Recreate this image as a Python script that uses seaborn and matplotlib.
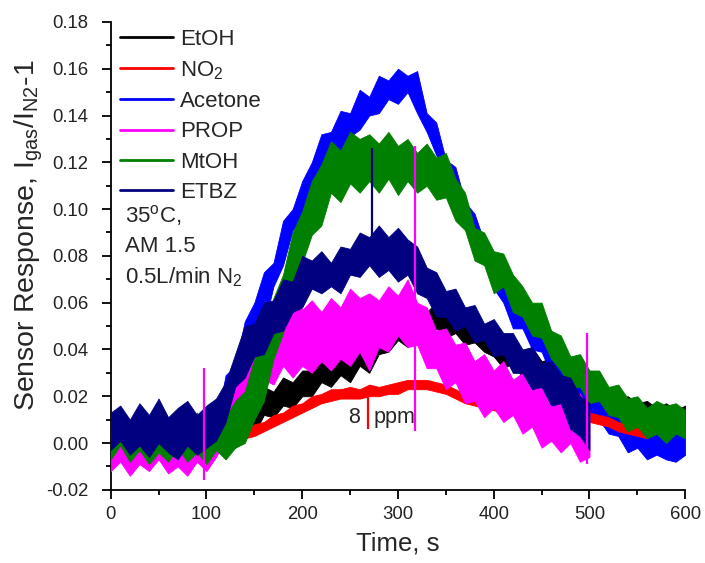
import numpy as np
import pandas as pd
import matplotlib
matplotlib.use("Agg")
import matplotlib.pyplot as plt
from matplotlib.lines import Line2D
import seaborn as sns

# ---------------- data (noise band low / high edges) ----------------
t_full = list(range(0, 601, 10))      # 0..600 s
t_500 = list(range(0, 501, 10))       # 0..500 s
t_560 = list(range(0, 561, 10))       # 0..560 s

etoh_lo = [-0.006, -0.003, -0.007, -0.002, -0.006, -0.004, -0.008, -0.002, -0.005, -0.006, -0.003, -0.005,
           0.000, -0.002, 0.004, 0.004, 0.012, 0.011, 0.016, 0.015, 0.020, 0.020, 0.026, 0.024, 0.029, 0.026,
           0.033, 0.030, 0.038, 0.039, 0.044, 0.041, 0.047, 0.044, 0.049, 0.045, 0.047, 0.042, 0.043, 0.039,
           0.037, 0.032, 0.034, 0.028, 0.030, 0.023, 0.025, 0.019, 0.020, 0.015, 0.015, 0.011, 0.012, 0.008,
           0.010, 0.006, 0.008, 0.005, 0.007, 0.004, 0.007]
etoh_hi = [0.007, 0.009, 0.005, 0.010, 0.006, 0.008, 0.005, 0.010, 0.007, 0.006, 0.009, 0.007,
           0.011, 0.010, 0.015, 0.017, 0.024, 0.022, 0.028, 0.026, 0.031, 0.031, 0.036, 0.034, 0.039, 0.036,
           0.043, 0.042, 0.049, 0.049, 0.055, 0.053, 0.058, 0.056, 0.060, 0.054, 0.056, 0.051, 0.052, 0.047,
           0.049, 0.044, 0.046, 0.039, 0.041, 0.035, 0.036, 0.030, 0.031, 0.025, 0.026, 0.021, 0.023, 0.019,
           0.020, 0.017, 0.018, 0.015, 0.017, 0.014, 0.016]

no2_lo = [-0.002, -0.003, -0.001, -0.003, -0.002, -0.001, -0.003, -0.002, -0.001, -0.003, -0.002, -0.001,
          0.000, 0.000, 0.002, 0.003, 0.005, 0.007, 0.009, 0.011, 0.013, 0.015, 0.017, 0.018, 0.019, 0.019,
          0.019, 0.020, 0.020, 0.021, 0.021, 0.023, 0.023, 0.023, 0.022, 0.021, 0.019, 0.017, 0.016, 0.015,
          0.014, 0.013, 0.013, 0.012, 0.012, 0.011, 0.011, 0.010, 0.010, 0.009, 0.009, 0.008, 0.007, 0.005,
          0.004, 0.003, 0.002]
no2_hi = [0.002, 0.001, 0.003, 0.001, 0.002, 0.003, 0.001, 0.002, 0.003, 0.001, 0.002, 0.003,
          0.004, 0.005, 0.006, 0.008, 0.009, 0.012, 0.013, 0.016, 0.017, 0.020, 0.021, 0.023, 0.023, 0.024,
          0.023, 0.025, 0.024, 0.025, 0.026, 0.027, 0.027, 0.027, 0.026, 0.025, 0.023, 0.021, 0.020, 0.019,
          0.018, 0.017, 0.017, 0.016, 0.016, 0.015, 0.015, 0.014, 0.014, 0.013, 0.013, 0.012, 0.011, 0.009,
          0.008, 0.007, 0.006]

acetone_lo = [-0.008, -0.003, -0.009, -0.004, -0.008, -0.005, -0.010, -0.004, -0.007, -0.003, -0.007, -0.001,
              0.010, 0.018, 0.028, 0.044, 0.050, 0.067, 0.076, 0.091, 0.095, 0.110, 0.114, 0.124, 0.125, 0.131,
              0.134, 0.140, 0.141, 0.147, 0.145, 0.150, 0.141, 0.133, 0.123, 0.116, 0.101, 0.094, 0.083, 0.077,
              0.066, 0.060, 0.049, 0.049, 0.040, 0.039, 0.029, 0.027, 0.020, 0.017, 0.010, 0.010, 0.004, 0.003,
              -0.004, -0.002, -0.007, -0.005, -0.007, -0.008, -0.005]
acetone_hi = [0.009, 0.006, 0.010, 0.005, 0.011, 0.006, 0.009, 0.005, 0.010, 0.007, 0.011, 0.008,
              0.029, 0.033, 0.052, 0.060, 0.073, 0.077, 0.095, 0.100, 0.112, 0.120, 0.132, 0.133, 0.142, 0.141,
              0.151, 0.148, 0.157, 0.155, 0.160, 0.157, 0.159, 0.141, 0.137, 0.121, 0.118, 0.103, 0.098, 0.086,
              0.081, 0.070, 0.068, 0.057, 0.054, 0.046, 0.046, 0.037, 0.035, 0.027, 0.026, 0.019, 0.020, 0.012,
              0.013, 0.007, 0.010, 0.004, 0.009, 0.005, 0.008]

prop_lo = [-0.012, -0.008, -0.014, -0.009, -0.012, -0.007, -0.013, -0.010, -0.014, -0.008, -0.012, -0.006,
           0.002, 0.008, 0.017, 0.018, 0.027, 0.025, 0.033, 0.028, 0.033, 0.030, 0.035, 0.031, 0.036, 0.033,
           0.039, 0.031, 0.041, 0.039, 0.046, 0.041, 0.042, 0.032, 0.032, 0.023, 0.026, 0.017, 0.018, 0.011,
           0.015, 0.009, 0.012, 0.004, 0.007, -0.002, 0.001, -0.004, 0.000, -0.008, -0.006]
prop_hi = [0.004, 0.007, 0.002, 0.008, 0.003, 0.006, 0.002, 0.009, 0.004, 0.007, 0.003, 0.010,
           0.018, 0.034, 0.036, 0.046, 0.045, 0.054, 0.052, 0.063, 0.057, 0.061, 0.056, 0.062, 0.058, 0.066,
           0.062, 0.064, 0.061, 0.067, 0.063, 0.070, 0.060, 0.058, 0.048, 0.049, 0.042, 0.043, 0.035, 0.038,
           0.031, 0.035, 0.027, 0.030, 0.023, 0.026, 0.019, 0.023, 0.017, 0.021, 0.014]

mtoh_lo = [-0.007, -0.001, -0.008, -0.003, -0.009, -0.004, -0.008, -0.002, -0.008, -0.004, -0.009, -0.003,
           -0.007, -0.002, 0.000, 0.010, 0.018, 0.036, 0.047, 0.068, 0.077, 0.089, 0.093, 0.107, 0.103, 0.111,
           0.107, 0.112, 0.107, 0.113, 0.106, 0.112, 0.107, 0.110, 0.104, 0.105, 0.095, 0.091, 0.078, 0.076,
           0.064, 0.067, 0.056, 0.054, 0.046, 0.045, 0.036, 0.031, 0.024, 0.024, 0.017, 0.018, 0.012, 0.011,
           0.005, 0.007, 0.002, 0.004, 0.000, 0.004, 0.002]
mtoh_hi = [0.011, 0.013, 0.007, 0.014, 0.008, 0.012, 0.007, 0.014, 0.009, 0.013, 0.007, 0.011,
           0.011, 0.018, 0.022, 0.036, 0.047, 0.062, 0.072, 0.090, 0.099, 0.112, 0.119, 0.129, 0.125, 0.133,
           0.130, 0.132, 0.128, 0.133, 0.127, 0.130, 0.124, 0.128, 0.122, 0.124, 0.113, 0.107, 0.092, 0.090,
           0.082, 0.081, 0.072, 0.067, 0.060, 0.060, 0.048, 0.046, 0.037, 0.038, 0.031, 0.031, 0.024, 0.025,
           0.019, 0.020, 0.015, 0.018, 0.016, 0.017, 0.014]

etbz_lo = [-0.003, 0.001, -0.005, -0.001, -0.006, 0.000, -0.004, -0.007, -0.001, -0.005, -0.002, 0.001,
           0.009, 0.024, 0.028, 0.037, 0.038, 0.047, 0.048, 0.056, 0.058, 0.066, 0.064, 0.067, 0.064, 0.072,
           0.071, 0.076, 0.071, 0.074, 0.069, 0.072, 0.064, 0.062, 0.054, 0.054, 0.048, 0.050, 0.043, 0.044,
           0.037, 0.038, 0.030, 0.030, 0.023, 0.024, 0.016, 0.017, 0.006, 0.003, -0.003]
etbz_hi = [0.013, 0.016, 0.010, 0.017, 0.012, 0.019, 0.011, 0.015, 0.018, 0.012, 0.016, 0.019,
           0.026, 0.038, 0.050, 0.051, 0.060, 0.061, 0.070, 0.069, 0.080, 0.078, 0.082, 0.077, 0.084, 0.083,
           0.090, 0.088, 0.093, 0.088, 0.092, 0.087, 0.084, 0.075, 0.073, 0.065, 0.066, 0.058, 0.059, 0.051,
           0.053, 0.047, 0.047, 0.040, 0.041, 0.034, 0.035, 0.029, 0.028, 0.020, 0.017]

# single-sample spikes
spike_gas = ["ETBZ", "NO$_2$", "PROP", "PROP", "PROP"]
spike_t = [273, 269, 318, 97, 497]
spike_lo = [0.085, 0.006, 0.005, -0.016, -0.009]
spike_hi = [0.126, 0.021, 0.127, 0.032, 0.047]

legend_order = ["EtOH", "NO$_2$", "Acetone", "PROP", "MtOH", "ETBZ"]
colors = {"EtOH": "#000000", "NO$_2$": "#FF0000", "Acetone": "#0000FF",
          "PROP": "#FF00FF", "MtOH": "#008000", "ETBZ": "#000080"}

series = {
    "EtOH": (t_full, etoh_lo, etoh_hi),
    "NO$_2$": (t_560, no2_lo, no2_hi),
    "Acetone": (t_full, acetone_lo, acetone_hi),
    "PROP": (t_500, prop_lo, prop_hi),
    "MtOH": (t_full, mtoh_lo, mtoh_hi),
    "ETBZ": (t_500, etbz_lo, etbz_hi),
}
draw_order = ["EtOH", "Acetone", "NO$_2$", "PROP", "MtOH", "ETBZ"]

# ---------------- style ----------------
sns.set_theme(style="ticks")
plt.rcParams["font.family"] = ["Liberation Sans", "DejaVu Sans"]
plt.rcParams["mathtext.fontset"] = "custom"
plt.rcParams["mathtext.rm"] = "Liberation Sans"
plt.rcParams["mathtext.it"] = "Liberation Sans:italic"
plt.rcParams["mathtext.default"] = "regular"

fig = plt.figure(figsize=(7.05, 5.63), dpi=100)
ax = fig.add_axes([0.157, 0.130, 0.815, 0.831])

for z, name in enumerate(draw_order, start=2):
    t, lo, hi = series[name]
    df = pd.DataFrame({"t": list(t) + list(t), "v": list(lo) + list(hi)})
    sns.lineplot(data=df, x="t", y="v", ax=ax, color=colors[name],
                 errorbar=("pi", 100), estimator="mean",
                 err_kws={"alpha": 1, "linewidth": 0.6, "edgecolor": colors[name], "zorder": z},
                 lw=0.8, zorder=z, legend=False)

for g, st, sl, sh in zip(spike_gas, spike_t, spike_lo, spike_hi):
    ax.vlines(st, sl, sh, colors=colors[g], lw=1.6, zorder=10)

# legend
leg_handles = [Line2D([], [], color=colors[n], lw=2) for n in legend_order]
ax.legend(leg_handles, legend_order, loc="upper left", bbox_to_anchor=(0.012, 0.99),
          frameon=False, fontsize=16, handlelength=2.4, handletextpad=0.3,
          labelspacing=0.42, borderpad=0.1, borderaxespad=0)

# annotations
ax.text(14.5, 0.0974, "35$^{o}$C,", fontsize=16, va="center", ha="left")
ax.text(14.5, 0.0842, "AM 1.5", fontsize=16, va="center", ha="left")
ax.text(14.5, 0.0709, "0.5L/min N$_2$", fontsize=16, va="center", ha="left")
ax.text(248, 0.0107, "8", fontsize=15.5, va="center", ha="left")
ax.text(274, 0.0107, "ppm", fontsize=15.5, va="center", ha="left")

# axes
ax.set_xlim(0, 600)
ax.set_ylim(-0.02, 0.18)
ax.set_xticks(np.arange(0, 601, 100))
ax.set_xticks(np.arange(50, 600, 100), minor=True)
yt = np.round(np.arange(-0.02, 0.181, 0.02), 2)
ax.set_yticks(yt)
ax.set_yticks(np.arange(-0.01, 0.18, 0.02), minor=True)
ax.set_yticklabels([f"{v:.2f}" for v in yt])
ax.tick_params(which="major", direction="out", length=6.5, width=1.3, labelsize=13.3, color="black",
               labelcolor="#222222")
ax.tick_params(axis="y", which="major", pad=9.5)
ax.tick_params(axis="x", which="major", pad=5.5)
ax.tick_params(which="minor", direction="out", length=3.5, width=1.3, color="black")
for s in ["top", "right"]:
    ax.spines[s].set_visible(False)
for s in ["left", "bottom"]:
    ax.spines[s].set_linewidth(1.3)
    ax.spines[s].set_color("black")

ax.set_xlabel("Time, s", fontsize=18.5)
ax.set_ylabel("Sensor Response, I$_{gas}$/I$_{N2}$-1", fontsize=20.5)
ax.yaxis.set_label_coords(-0.115, 0.545)
ax.xaxis.set_label_coords(0.5, -0.09)

fig.savefig("out.png", dpi=100)
